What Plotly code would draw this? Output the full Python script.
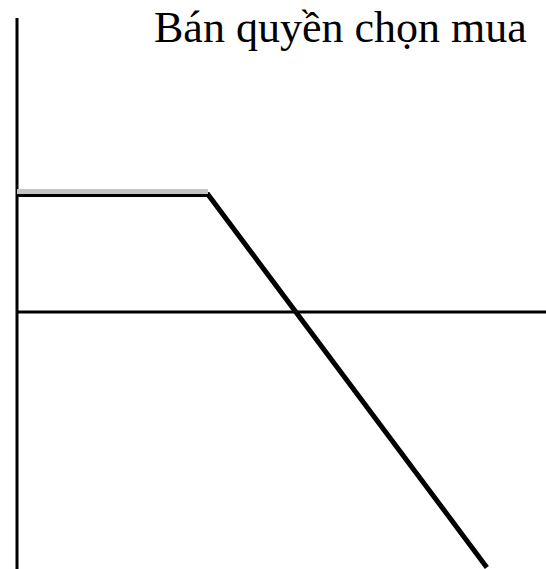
import plotly.graph_objects as go

# ---- data (short call payoff) ----
stock_price = [0, 50, 123]      # underlying price at expiry
payoff = [23, 23, -50]          # writer's profit: premium kept, then loss beyond strike
title_text = "Bán quyền chọn mua"

# ---- layout calibration (pixels) ----
W, H = 546, 569
x_axis_px = 17.0
strike_px = 208.0
y_zero_px = 312.0
prem_px = 194.5
sx = (strike_px - x_axis_px) / (stock_price[1] - stock_price[0])
sy = (y_zero_px - prem_px) / payoff[0]
x_range = [-x_axis_px / sx, (W - x_axis_px) / sx]
y_range = [-(H - y_zero_px) / sy, y_zero_px / sy]
shadow_shift = 3.0 / sy

fig = go.Figure()

# light grey shadow on top of the flat part
fig.add_trace(go.Scatter(
    x=stock_price[:2], y=payoff[:2], mode="lines",
    line=dict(color="#c4c4c4", width=5), yaxis="y2", hoverinfo="skip",
    showlegend=False))

fig.add_trace(go.Scatter(
    x=stock_price, y=payoff, mode="lines",
    line=dict(color="black", width=5), hoverinfo="skip", showlegend=False))

fig.update_layout(
    width=W, height=H,
    margin=dict(l=0, r=0, t=0, b=0),
    paper_bgcolor="white", plot_bgcolor="white",
    xaxis=dict(range=x_range, visible=False, fixedrange=True),
    yaxis=dict(range=y_range, visible=False, fixedrange=True),
    yaxis2=dict(range=[y_range[0] - shadow_shift, y_range[1] - shadow_shift],
                overlaying="y", visible=False, fixedrange=True),
    shapes=[
        # vertical axis
        dict(type="line", xref="x", yref="paper", x0=0, x1=0,
             y0=0, y1=1 - 18 / H, line=dict(color="black", width=3), layer="below"),
        # horizontal axis
        dict(type="line", xref="paper", yref="y", x0=x_axis_px / W, x1=1,
             y0=0, y1=0, line=dict(color="black", width=3), layer="below"),
    ],
    annotations=[dict(
        text=title_text, xref="paper", yref="paper",
        x=340 / W, y=1 - 28 / H, xanchor="center", yanchor="middle",
        showarrow=False,
        font=dict(family="Liberation Serif", size=44, color="black"))],
)

fig.write_html(
    "out.html",
    config={"displayModeBar": False},
    post_script="document.body.style.margin='0';document.body.style.overflow='hidden';",
)
